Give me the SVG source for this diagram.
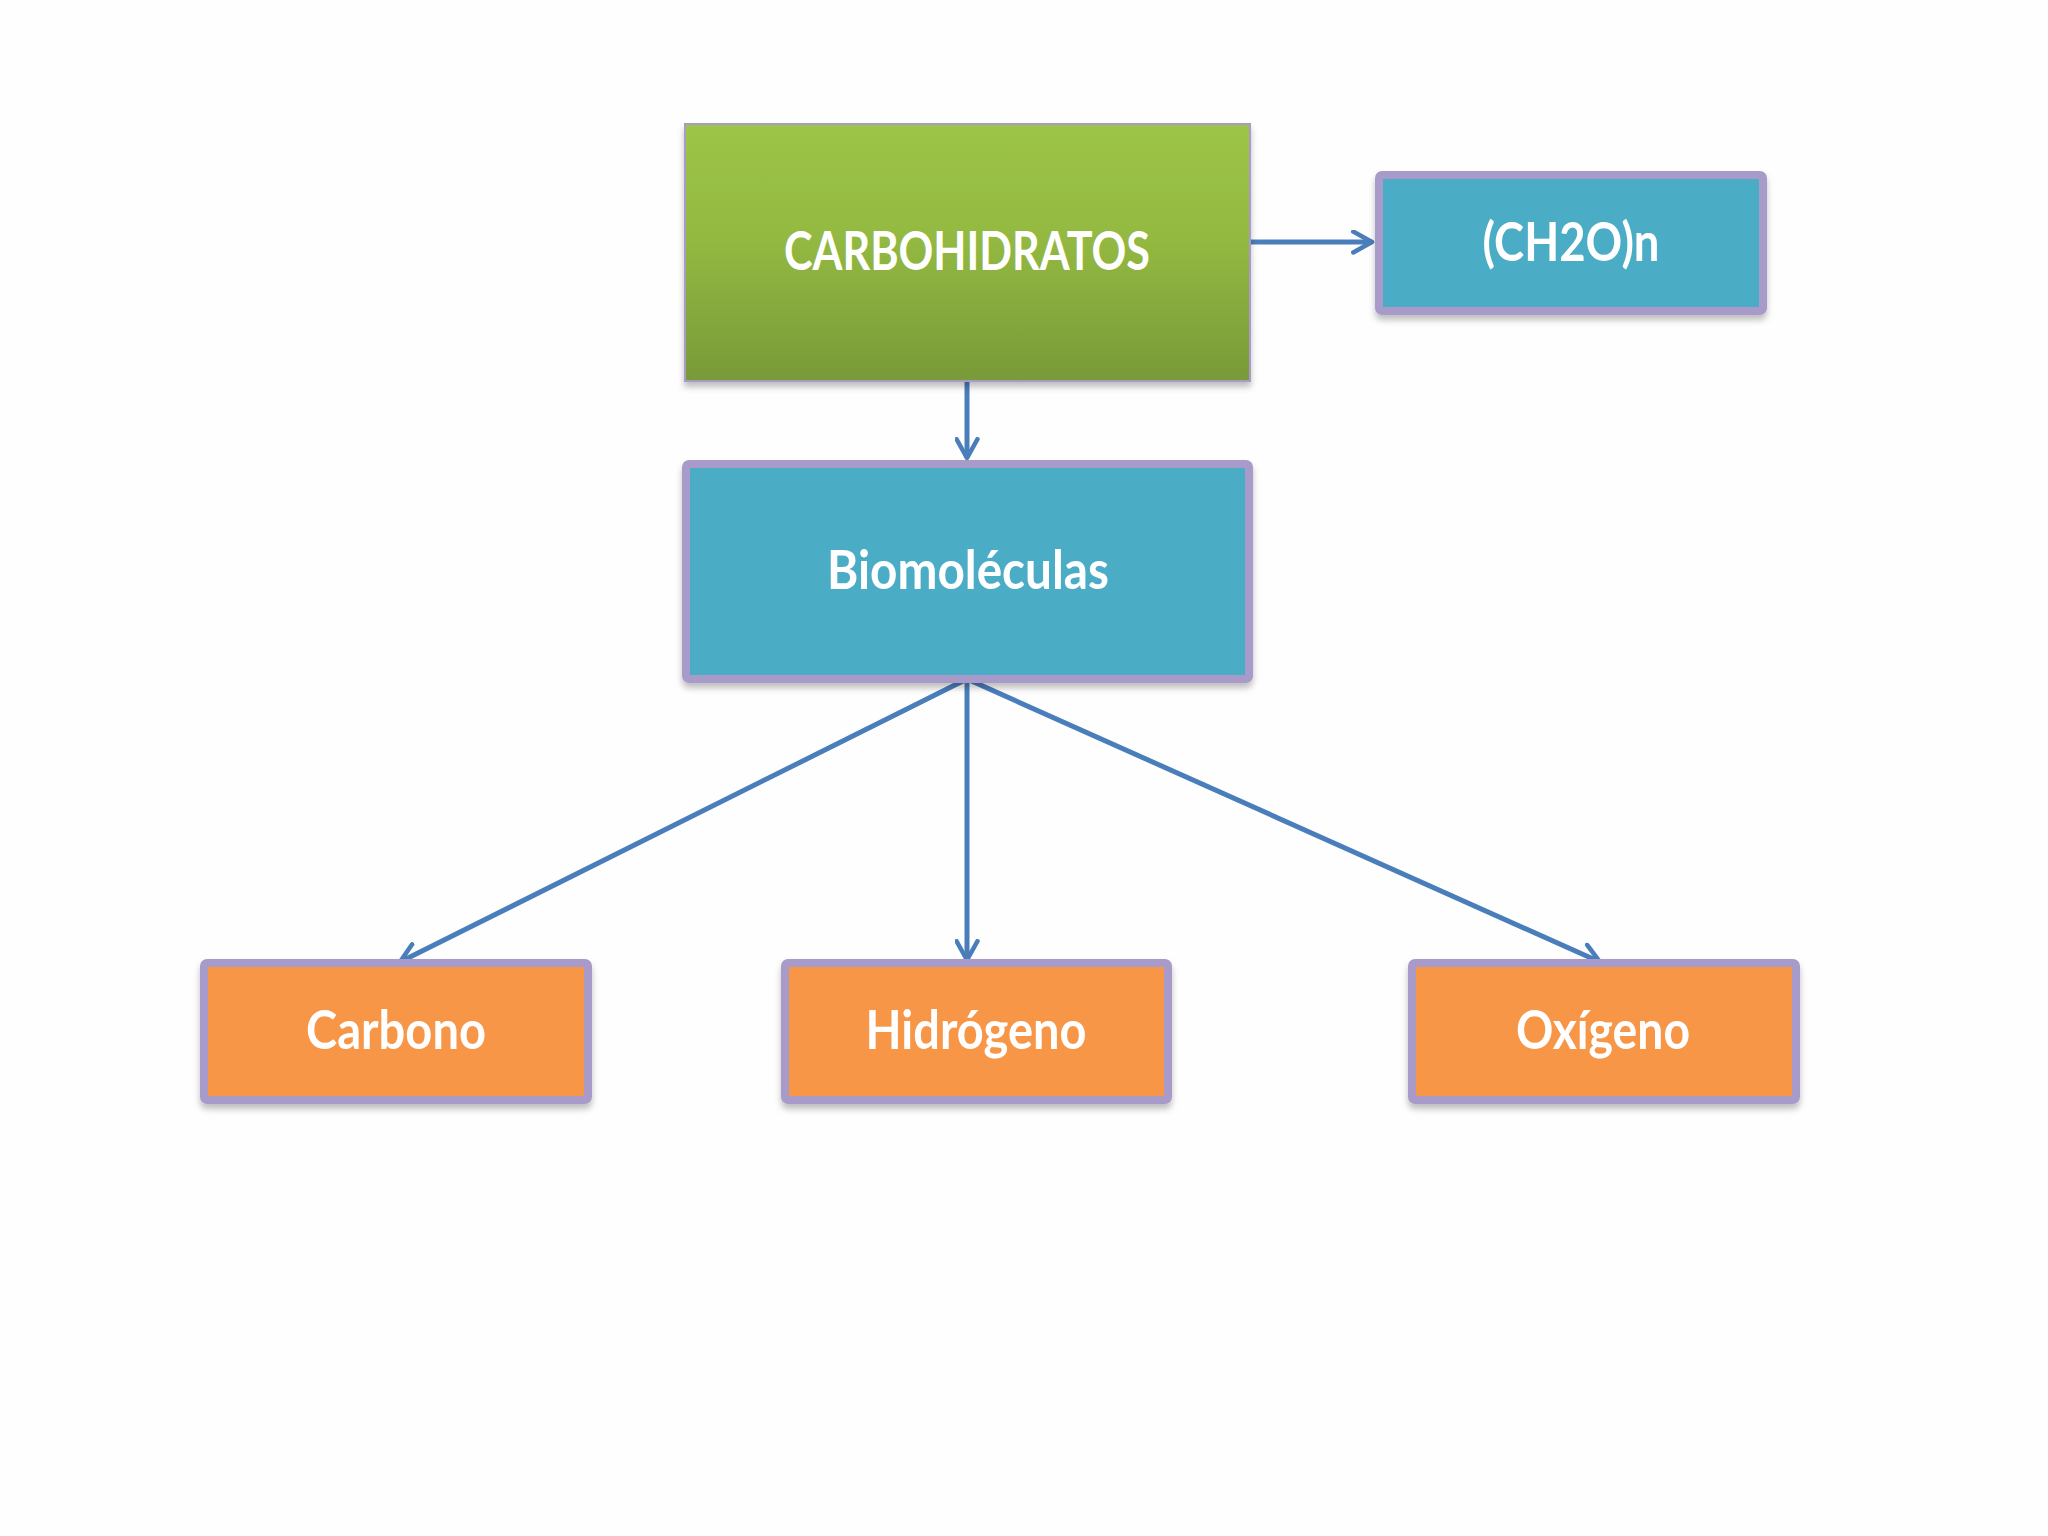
<svg xmlns="http://www.w3.org/2000/svg" width="2048" height="1536" viewBox="0 0 2048 1536">
<defs>
<linearGradient id="gGreen" x1="0" y1="0" x2="0" y2="1">
<stop offset="0" stop-color="#9dc546"/>
<stop offset="0.45" stop-color="#93b942"/>
<stop offset="1" stop-color="#789a38"/>
</linearGradient>
<filter id="sh" x="-5%" y="-5%" width="110%" height="120%">
<feDropShadow dx="0" dy="5" stdDeviation="3" flood-color="#000" flood-opacity="0.25"/>
</filter>
<marker id="arr" viewBox="0 0 12 12" refX="10" refY="6" markerWidth="5" markerHeight="5" orient="auto" markerUnits="strokeWidth">
<path d="M1,1 L10,6 L1,11" fill="none" stroke="#4a7ebb" stroke-width="2.2" stroke-linecap="round" stroke-linejoin="round"/>
</marker>
<style>
.lbl{font-family:"Lato","Open Sans","Liberation Sans",sans-serif;font-weight:700;font-size:53px;fill:#ffffff;text-anchor:middle}
.box{stroke:#a99bc9;stroke-width:8}
.blue{fill:#4bacc6}
.orange{fill:#f79646}
.conn{stroke:#4a7ebb;stroke-width:5;fill:none;marker-end:url(#arr)}
</style>
</defs>
<rect x="0" y="0" width="2048" height="1536" fill="#fefefe"/>
<g id="connectors">
<line class="conn" x1="1250" y1="242" x2="1372" y2="242"/>
<line class="conn" x1="967" y1="381" x2="967" y2="458"/>
<line class="conn" x1="967" y1="679" x2="400" y2="962"/>
<line class="conn" x1="967" y1="679" x2="967" y2="960"/>
<line class="conn" x1="967" y1="679" x2="1600" y2="962"/>
</g>
<g id="carbohidratos">
<rect x="685" y="124" width="565" height="257" fill="url(#gGreen)" stroke="#a99bc9" stroke-width="2" filter="url(#sh)"/>
<text class="lbl" x="967" y="270" textLength="366" lengthAdjust="spacingAndGlyphs">CARBOHIDRATOS</text>
</g>
<g id="ch2on">
<rect class="box blue" x="1379" y="175" width="384" height="136" rx="3" filter="url(#sh)"/>
<text class="lbl" x="1571" y="261" textLength="177" lengthAdjust="spacingAndGlyphs">(CH2O)n</text>
</g>
<g id="biomoleculas">
<rect class="box blue" x="686" y="464" width="563" height="215" rx="3" filter="url(#sh)"/>
<text class="lbl" x="968" y="589" textLength="282" lengthAdjust="spacingAndGlyphs">Biomoléculas</text>
</g>
<g id="carbono">
<rect class="box orange" x="204" y="963" width="384" height="137" rx="3" filter="url(#sh)"/>
<text class="lbl" x="396" y="1049" textLength="180" lengthAdjust="spacingAndGlyphs">Carbono</text>
</g>
<g id="hidrogeno">
<rect class="box orange" x="785" y="963" width="383" height="137" rx="3" filter="url(#sh)"/>
<text class="lbl" x="976" y="1049" textLength="221" lengthAdjust="spacingAndGlyphs">Hidrógeno</text>
</g>
<g id="oxigeno">
<rect class="box orange" x="1412" y="963" width="384" height="137" rx="3" filter="url(#sh)"/>
<text class="lbl" x="1603" y="1049" textLength="174" lengthAdjust="spacingAndGlyphs">Oxígeno</text>
</g>
</svg>
